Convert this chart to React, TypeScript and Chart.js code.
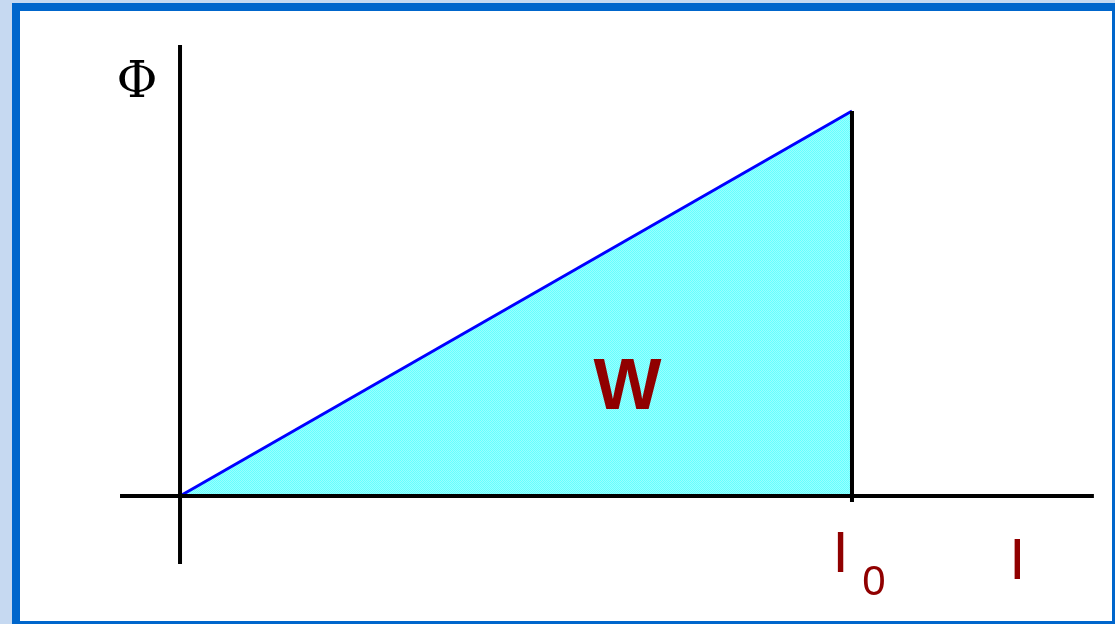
import React, { useEffect, useRef } from "react";
import { Chart, registerables } from "chart.js";

Chart.register(...registerables);

// Diagram data: flux Φ grows linearly with current I up to I0 (values normalised to I0 and Φ(I0))
const currentValues = [0, 1];
const fluxValues = [0, 1];
const markerCurrent = 1; // I0
const yAxisTitle = "Φ";
const xAxisTitle = "I";
const markerLabel = "I";
const markerSubscript = "0";
const areaLabel = "W";

// axis extents (data units)
const xAxisRange = [-0.0893, 1.36];
const yAxisRange = [-0.1766, 1.1714];

function makePattern(): CanvasPattern | string {
  const c = document.createElement("canvas");
  c.width = 2;
  c.height = 2;
  const g = c.getContext("2d");
  if (!g) return "#80ffff";
  g.fillStyle = "#99ffff";
  g.fillRect(0, 0, 2, 2);
  g.fillStyle = "#66ffff";
  g.fillRect(0, 0, 1, 1);
  g.fillRect(1, 1, 1, 1);
  return g.createPattern(c, "repeat") || "#80ffff";
}

const textPlugin = {
  id: "diagramText",
  afterDatasetsDraw(chart: any) {
    const { ctx, scales } = chart;
    const xs = scales.x;
    const ys = scales.y;
    const px = (v: number) => xs.getPixelForValue(v);
    const py = (v: number) => ys.getPixelForValue(v);
    ctx.save();
    ctx.textAlign = "center";
    ctx.textBaseline = "alphabetic";

    // Φ axis title
    ctx.fillStyle = "#000000";
    ctx.font = '50px "DejaVu Serif"';
    ctx.fillText(yAxisTitle, px(-0.064), py(1.036));

    // W area label
    ctx.fillStyle = "#900000";
    ctx.font = 'bold 72px "Liberation Sans"';
    ctx.fillText(areaLabel, px(0.666), py(0.225));

    // I0 label
    ctx.font = '58px "Liberation Sans"';
    ctx.fillText(markerLabel, px(markerCurrent - 0.0171), py(-0.197));
    ctx.font = '42px "Liberation Sans"';
    ctx.fillText(markerSubscript, px(markerCurrent + 0.0327), py(-0.257));

    // I axis label
    ctx.font = '58px "Liberation Sans"';
    ctx.fillText(xAxisTitle, px(1.246), py(-0.215));
    ctx.restore();
  },
};

export default function App() {
  const canvasRef = useRef<HTMLCanvasElement | null>(null);

  useEffect(() => {
    document.body.style.margin = "0";
    const canvas = canvasRef.current;
    if (!canvas) return;
    const fluxLine = currentValues.map((x, i) => ({ x, y: fluxValues[i] }));
    const chart = new Chart(canvas, {
      type: "scatter",
      data: {
        datasets: [
          {
            label: "x axis",
            data: [
              { x: xAxisRange[0], y: 0 },
              { x: xAxisRange[1], y: 0 },
            ],
            showLine: true,
            borderColor: "#000000",
            borderWidth: 4,
            pointRadius: 0,
            order: 1,
          },
          {
            label: "y axis",
            data: [
              { x: 0, y: yAxisRange[0] },
              { x: 0, y: yAxisRange[1] },
            ],
            showLine: true,
            borderColor: "#000000",
            borderWidth: 4,
            pointRadius: 0,
            order: 1,
          },
          {
            label: "I0",
            data: [
              { x: markerCurrent, y: fluxValues[fluxValues.length - 1] },
              { x: markerCurrent, y: -0.0156 },
            ],
            showLine: true,
            borderColor: "#000000",
            borderWidth: 4,
            pointRadius: 0,
            order: 1,
          },
          {
            label: "Φ(I)",
            data: fluxLine,
            showLine: true,
            borderColor: "#0000ff",
            borderWidth: 3,
            backgroundColor: makePattern() as any,
            fill: "origin",
            pointRadius: 0,
            order: 5,
          },
        ],
      },
      options: {
        animation: false,
        responsive: false,
        maintainAspectRatio: false,
        layout: { padding: 0 },
        plugins: {
          legend: { display: false },
          tooltip: { enabled: false },
          title: { display: false },
        },
        scales: {
          x: { type: "linear", display: false, min: -0.2679, max: 1.3914 },
          y: { type: "linear", display: false, min: -0.3325, max: 1.2883 },
        },
      },
      plugins: [textPlugin],
    });
    return () => chart.destroy();
  }, []);

  return (
    <div
      style={{
        position: "relative",
        width: 1115,
        height: 624,
        background: "#c6d9f1",
        overflow: "hidden",
      }}
    >
      <div
        style={{
          position: "absolute",
          left: 12,
          top: 3,
          width: 1103,
          height: 621,
          boxSizing: "border-box",
          borderLeft: "8px solid #0066cc",
          borderTop: "8px solid #0066cc",
          borderRight: "3px solid #0066cc",
          borderBottom: "3px solid #0066cc",
          background: "#ffffff",
        }}
      />
      <canvas
        ref={canvasRef}
        width={1115}
        height={624}
        style={{ position: "absolute", left: 0, top: 0, display: "block" }}
      />
    </div>
  );
}
